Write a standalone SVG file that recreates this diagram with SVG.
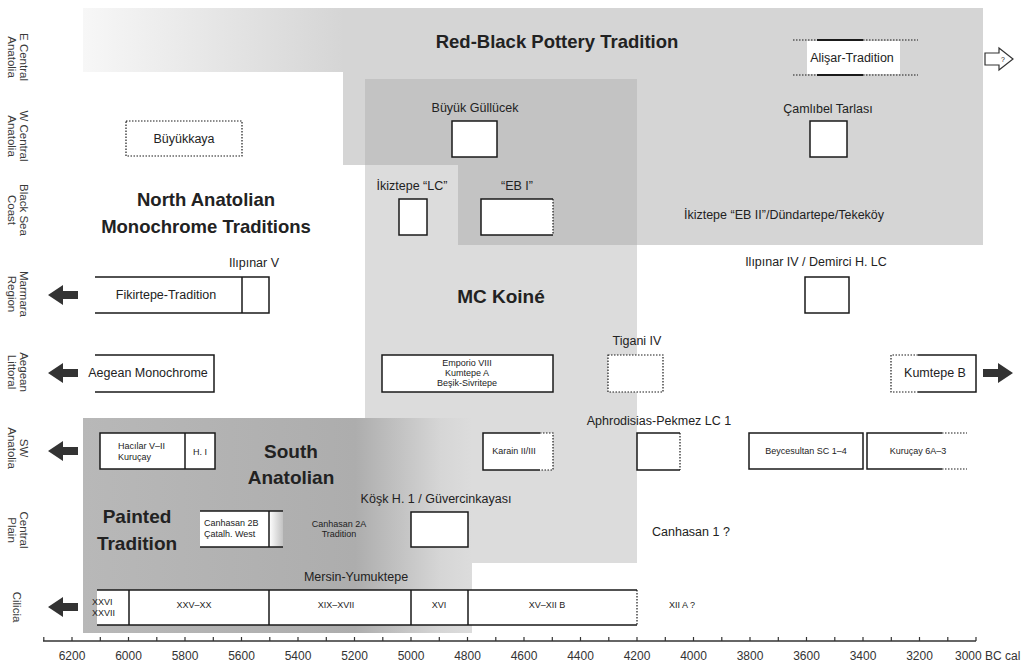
<svg xmlns="http://www.w3.org/2000/svg" width="1034" height="665" viewBox="0 0 1034 665">
<style>
text{font-family:"Liberation Sans",Arial,sans-serif;fill:#222}
.lbl{font-size:12.5px}
.sm{font-size:9px}
.big{font-size:19px;font-weight:bold}
.row{font-size:11.5px;fill:#3a3a3a}
.c{text-anchor:middle}
.box{fill:#fff;stroke:#1a1a1a;stroke-width:1.5}
.wf{fill:#fff}
.ln{fill:none;stroke:#1a1a1a;stroke-width:1.5}
.dot{fill:none;stroke:#1a1a1a;stroke-width:1.2;stroke-dasharray:1.5 1.5}
.dbox{fill:#fff;stroke:#1a1a1a;stroke-width:1.2;stroke-dasharray:1.5 1.5}
.arr{fill:#333}
.ax{fill:none;stroke:#333;stroke-width:1.5}
.tk{font-size:12px;fill:#333}
</style>
<defs>
<linearGradient id="gRB" gradientUnits="userSpaceOnUse" x1="83" y1="0" x2="345" y2="0">
<stop offset="0" stop-color="#f7f7f7"/><stop offset="1" stop-color="#d5d5d5"/>
</linearGradient>
<linearGradient id="gSA" gradientUnits="userSpaceOnUse" x1="83" y1="0" x2="472" y2="0">
<stop offset="0" stop-color="#b8b8b8"/><stop offset="0.7" stop-color="#adadad"/><stop offset="0.92" stop-color="#d6d6d6"/><stop offset="1" stop-color="#dcdcdc"/>
</linearGradient>
<linearGradient id="gCH" x1="0" y1="0" x2="1" y2="0">
<stop offset="0" stop-color="#fff"/><stop offset="1" stop-color="#c2c2c2"/>
</linearGradient>
<path id="larr" d="M0,0 L15,-10 L15,-4 L30,-4 L30,4 L15,4 L15,10 Z"/>
</defs>

<g id="regions">
<path id="red-black" fill="url(#gRB)" d="M83,8 H983 V245 H458 V165 H343 V72 H83 Z"/>
<path fill="#d5d5d5" d="M343,8 H983 V245 H458 V165 H343 Z"/>
<rect id="mc-koine" x="365" y="79" width="272" height="484" fill="#dcdcdc"/>
<path id="overlap" fill="#c3c3c3" d="M365,79 H637 V245 H458 V165 H365 Z"/>
<rect id="south-anatolian" x="83" y="418" width="389" height="215" fill="url(#gSA)"/>
</g>

<g id="row-labels">
<text class="row c" transform="translate(20,57) rotate(90)">E Central</text>
<text class="row c" transform="translate(8,57) rotate(90)">Anatolia</text>
<text class="row c" transform="translate(20,136) rotate(90)">W Central</text>
<text class="row c" transform="translate(8,136) rotate(90)">Anatolia</text>
<text class="row c" transform="translate(20,210) rotate(90)">Black Sea</text>
<text class="row c" transform="translate(8,210) rotate(90)">Coast</text>
<text class="row c" transform="translate(20,294) rotate(90)">Marmara</text>
<text class="row c" transform="translate(8,294) rotate(90)">Region</text>
<text class="row c" transform="translate(20,372) rotate(90)">Aegean</text>
<text class="row c" transform="translate(8,372) rotate(90)">Littoral</text>
<text class="row c" transform="translate(20,448) rotate(90)">SW</text>
<text class="row c" transform="translate(8,448) rotate(90)">Anatolia</text>
<text class="row c" transform="translate(20,530) rotate(90)">Central</text>
<text class="row c" transform="translate(8,530) rotate(90)">Plain</text>
<text class="row c" transform="translate(13,607) rotate(90)">Cilicia</text>
</g>

<g id="tradition-titles">
<text class="big c" x="557" y="48" style="font-size:18.5px">Red-Black Pottery Tradition</text>
<text class="big c" x="206" y="206" style="font-size:18.5px">North Anatolian</text>
<text class="big c" x="206" y="233" style="font-size:18.5px">Monochrome Traditions</text>
<text class="big c" x="501" y="303">MC Koiné</text>
<text class="big c" x="291" y="458">South</text>
<text class="big c" x="291" y="484">Anatolian</text>
<text class="big c" x="137" y="523">Painted</text>
<text class="big c" x="137" y="550">Tradition</text>
</g>

<g id="connectors">
<use href="#larr" class="arr" x="48" y="295"/>
<use href="#larr" class="arr" x="48" y="373"/>
<use href="#larr" class="arr" x="48" y="451"/>
<use href="#larr" class="arr" x="48" y="607"/>
<use href="#larr" class="arr" transform="translate(1013,373) scale(-1,1)"/>
<path d="M985,53 H999 V48 L1013,59 L999,70 V65 H985 Z" fill="#fff" stroke="#333" stroke-width="1.2"/>
<text x="1003" y="62" style="font-size:7px" class="c">?</text>
</g>

<g id="alisar">
<rect x="807" y="41" width="93" height="33" class="wf"/>
<path d="M817,40 H863 M817,75 H863" stroke="#1a1a1a" stroke-width="2" fill="none"/>
<path class="dot" d="M793,40 H817 M863,40 H918 M793,75 H817 M863,75 H918"/>
<text class="lbl c" x="852" y="62">Alişar-Tradition</text>
</g>

<g id="buyukkaya">
<rect x="126" y="121" width="116" height="35" class="dbox"/>
<text class="lbl c" x="184" y="143">Büyükkaya</text>
</g>

<g id="buyuk-gullucek">
<text class="lbl c" x="475" y="112">Büyük Güllücek</text>
<rect x="452" y="121" width="45" height="36" class="box"/>
</g>

<g id="camlibel">
<text class="lbl c" x="828" y="113">Çamlıbel Tarlası</text>
<rect x="810" y="121" width="37" height="36" class="box"/>
</g>

<g id="ikiztepe-lc">
<text class="lbl c" x="412" y="190">İkiztepe “LC”</text>
<rect x="399" y="199" width="28" height="36" class="box"/>
</g>

<g id="eb-i">
<text class="lbl c" x="517" y="190">“EB I”</text>
<rect x="481" y="199" width="72" height="36" class="wf"/>
<path class="ln" d="M553,199 H481 V235 H553"/>
<path class="dot" d="M553,199 V235"/>
</g>

<g id="ikiztepe-eb2">
<text class="lbl c" x="784" y="219">İkiztepe “EB II”/Dündartepe/Tekeköy</text>
</g>

<g id="fikirtepe">
<text class="lbl c" x="254" y="267">Ilıpınar V</text>
<rect x="95" y="277" width="174" height="36" class="wf"/>
<path class="ln" d="M95,277 H269 V313 H95 M242,277 V313"/>
<text class="lbl c" x="166" y="299">Fikirtepe-Tradition</text>
</g>

<g id="ilipinar-iv">
<text class="lbl c" x="816" y="266">Ilıpınar IV / Demirci H. LC</text>
<rect x="805" y="277" width="44" height="36" class="box"/>
</g>

<g id="aegean-monochrome">
<rect x="95" y="355" width="119" height="37" class="wf"/>
<path class="ln" d="M95,355 H214 V392 H95"/>
<text class="lbl c" x="148" y="377">Aegean Monochrome</text>
</g>

<g id="emporio">
<rect x="382" y="355" width="171" height="37" class="box"/>
<text class="sm c" x="467" y="366">Emporio VIII</text>
<text class="sm c" x="467" y="376">Kumtepe A</text>
<text class="sm c" x="467" y="386">Beşik-Sivritepe</text>
</g>

<g id="tigani">
<text class="lbl c" x="637" y="345">Tigani IV</text>
<rect x="608" y="355" width="55" height="37" class="dbox"/>
</g>

<g id="kumtepe-b">
<rect x="891" y="355" width="85" height="37" class="wf"/>
<path class="ln" d="M918,355 H976 V392 H918"/>
<path class="dot" d="M918,355 H891 V392 H918"/>
<text class="lbl c" x="935" y="377">Kumtepe B</text>
</g>

<g id="hacilar">
<rect x="100" y="433" width="115" height="36" class="box"/>
<path class="ln" d="M185,433 V469"/>
<text class="sm" x="118" y="449">Hacılar V–II</text>
<text class="sm" x="118" y="460">Kuruçay</text>
<text class="sm c" x="200" y="455">H. I</text>
</g>

<g id="karain">
<rect x="483" y="433" width="70" height="37" class="wf"/>
<path class="ln" d="M540,433 H483 V470 H540"/>
<path class="dot" d="M540,433 H553 V470 H540"/>
<text class="sm c" x="514" y="454">Karain II/III</text>
</g>

<g id="aphrodisias">
<text class="lbl c" x="659" y="425">Aphrodisias-Pekmez LC 1</text>
<rect x="637" y="433" width="43" height="37" class="wf"/>
<path class="ln" d="M680,433 H637 V470 H680"/>
<path class="dot" d="M680,433 V470"/>
</g>

<g id="beycesultan">
<rect x="749" y="433" width="114" height="36" class="box"/>
<text class="sm c" x="806" y="454">Beycesultan SC 1–4</text>
</g>

<g id="kurucay">
<rect x="867" y="433" width="100" height="36" class="wf"/>
<path class="ln" d="M942,433 H867 V469 H942"/>
<path class="dot" d="M942,433 H967 M942,469 H967"/>
<text class="sm c" x="918" y="454">Kuruçay 6A–3</text>
</g>

<g id="canhasan-2b">
<rect x="200" y="511" width="69" height="36" class="wf"/>
<rect x="269" y="511" width="14" height="36" fill="url(#gCH)"/>
<path class="ln" d="M200,511 H283 M200,547 H283 M269,511 V547"/>
<text class="sm" x="204" y="526">Canhasan 2B</text>
<text class="sm" x="204" y="537">Çatalh. West</text>
</g>

<g id="canhasan-2a">
<text class="sm c" x="339" y="527">Canhasan 2A</text>
<text class="sm c" x="339" y="537">Tradition</text>
</g>

<g id="kosk">
<text class="lbl c" x="436" y="503">Köşk H. 1 / Güvercinkayası</text>
<rect x="411" y="512" width="57" height="35" class="box"/>
</g>

<g id="canhasan-1">
<text class="lbl" x="652" y="536">Canhasan 1 ?</text>
</g>

<g id="mersin">
<text class="lbl c" x="356" y="581">Mersin-Yumuktepe</text>
<rect x="97" y="590" width="540" height="35" class="wf"/>
<path class="ln" d="M97,590 H637 M97,625 H637 M129,590 V625 M269,590 V625 M411,590 V625 M468,590 V625"/>
<path class="dot" d="M637,590 V625"/>
<text class="sm" x="92" y="605">XXVI</text>
<text class="sm" x="92" y="616">XXVII</text>
<text class="sm c" x="194" y="608">XXV–XX</text>
<text class="sm c" x="336" y="608">XIX–XVII</text>
<text class="sm c" x="439" y="608">XVI</text>
<text class="sm c" x="547" y="608">XV–XII B</text>
<text class="sm c" x="682" y="608">XII A ?</text>
</g>

<g id="axis">
<path class="ax" d="M43,641 H976"/>
<path stroke="#333" stroke-width="1.2" d="M43.8,641 v-4 M72,641 v-4 M100.3,641 v-4 M128.5,641 v-4 M156.8,641 v-4 M185,641 v-4 M213.3,641 v-4 M241.5,641 v-4 M269.8,641 v-4 M298,641 v-4 M326.3,641 v-4 M354.5,641 v-4 M382.8,641 v-4 M411,641 v-4 M439.3,641 v-4 M467.5,641 v-4 M495.8,641 v-4 M524,641 v-4 M552.3,641 v-4 M580.5,641 v-4 M608.8,641 v-4 M637,641 v-4 M665.3,641 v-4 M693.5,641 v-4 M721.8,641 v-4 M750,641 v-4 M778.3,641 v-4 M806.5,641 v-4 M834.8,641 v-4 M863,641 v-4 M891.3,641 v-4 M919.5,641 v-4 M947.8,641 v-4 M976,641 v-4"/>
<text class="tk c" x="72" y="660">6200</text>
<text class="tk c" x="128.5" y="660">6000</text>
<text class="tk c" x="185" y="660">5800</text>
<text class="tk c" x="241.5" y="660">5600</text>
<text class="tk c" x="298" y="660">5400</text>
<text class="tk c" x="354.5" y="660">5200</text>
<text class="tk c" x="411" y="660">5000</text>
<text class="tk c" x="467.5" y="660">4800</text>
<text class="tk c" x="524" y="660">4600</text>
<text class="tk c" x="580.5" y="660">4400</text>
<text class="tk c" x="637" y="660">4200</text>
<text class="tk c" x="693.5" y="660">4000</text>
<text class="tk c" x="750" y="660">3800</text>
<text class="tk c" x="806.5" y="660">3600</text>
<text class="tk c" x="863" y="660">3400</text>
<text class="tk c" x="919.5" y="660">3200</text>
<text class="tk" x="955" y="660">3000 BC cal</text>
</g>
</svg>
